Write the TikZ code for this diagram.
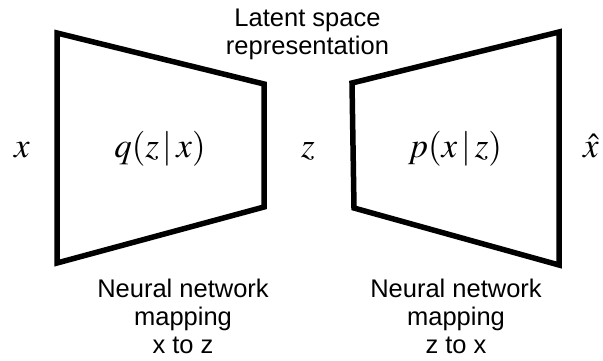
\documentclass[tikz,border=0pt]{standalone}
\usepackage{mathptmx}
\usepackage{fontspec}
\setmainfont{Liberation Sans}
\usepackage{tikz}
\usetikzlibrary{positioning, calc}
\newcommand{\vaetext}{\fontsize{25.5}{28}\selectfont}
\newcommand{\vaemath}{\fontsize{35}{40}\selectfont}

\begin{document}
\begin{tikzpicture}[x=1pt, y=-1pt,
      net/.style={line width=5.5pt, line join=miter, black},
      caption/.style={font=\vaetext, align=center, inner sep=0pt, anchor=north},
      var/.style={font=\vaemath, inner sep=0pt, anchor=base}
    ]
      \useasboundingbox (0,0) rectangle (603,360);

      % encoder and decoder
      \draw[net] (57,33) -- (264,84) -- (264,207) -- (57,263) -- cycle;
      \draw[net] (352,83) -- (559,32) -- (559,265) -- (354,208) -- cycle;

      \node[var] (enc) at (160,157) {$q(z\,|\,x)$};
      \node[var] (dec) at (455,157) {$p(x\,|\,z)$};

      \node[var] (xin) at (22,157) {$x$};
      \node[var] (zlat) at (308,157) {$z$};
      \node[var] (xout) at (591,157) {$\hat{x}$};

      % captions
      \node[caption] (latent) at (307.5,9) {Latent space\\representation};
      \node[caption] (encnote) at (183,279) {Neural network\\mapping\\x to z};
      \node[caption] (decnote) at (456,279) {Neural network\\mapping\\z to x};
    \end{tikzpicture}
\end{document}
